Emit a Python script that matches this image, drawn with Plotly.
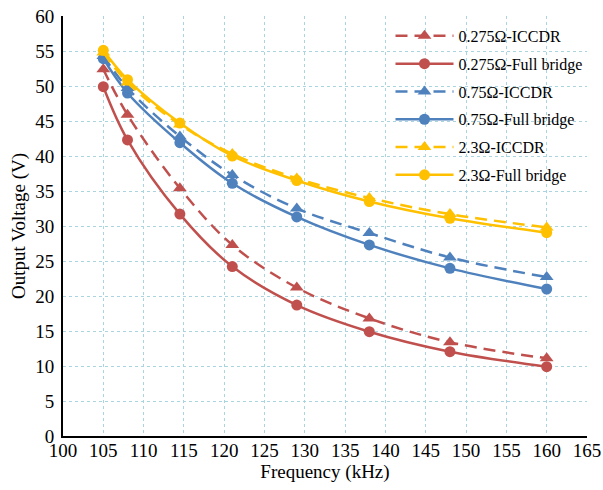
import plotly.graph_objects as go

freq = [105, 108, 114.5, 121, 129, 138, 148, 160]
r0275_iccdr = [52.4, 45.9, 35.4, 27.3, 21.2, 16.8, 13.4, 11.1]
r0275_full = [49.9, 42.3, 31.7, 24.2, 18.7, 14.9, 12.05, 9.9]
r075_iccdr = [54.3, 49.7, 42.8, 37.3, 32.5, 29.0, 25.5, 22.7]
r075_full = [53.9, 49.0, 41.9, 36.1, 31.3, 27.3, 23.95, 21.0]
r23_iccdr = [54.8, 50.5, 44.5, 40.3, 36.8, 34.0, 31.7, 29.8]
r23_full = [55.1, 50.9, 44.7, 40.0, 36.5, 33.5, 31.1, 29.05]

names = ["0.275Ω-ICCDR", "0.275Ω-Full bridge", "0.75Ω-ICCDR",
         "0.75Ω-Full bridge", "2.3Ω-ICCDR", "2.3Ω-Full bridge"]
series = [r0275_iccdr, r0275_full, r075_iccdr, r075_full, r23_iccdr, r23_full]
colors = ["#C0504D", "#C0504D", "#4F81BD", "#4F81BD", "#FFC000", "#FFC000"]

fig = go.Figure()
for i, (n, s, c) in enumerate(zip(names, series, colors)):
    iccdr = i % 2 == 0
    fig.add_trace(go.Scatter(
        x=freq, y=s, name=n, mode="lines+markers", legendgroup=f"g{i}",
        line=dict(color=c, width=2.5, shape="spline",
                  dash="12px,7px" if iccdr else "solid"),
        marker=dict(symbol="triangle-up" if iccdr else "circle",
                    size=12 if iccdr else 11, color=c),
    ))

font = "Liberation Serif"
fig.update_layout(
    width=603, height=490,
    margin=dict(l=63, r=16, t=16, b=54),
    paper_bgcolor="white", plot_bgcolor="white",
    font=dict(family=font, size=19, color="black"),
    legend=dict(x=0.625, y=0.993, xanchor="left", yanchor="top",
                bgcolor="rgba(0,0,0,0)", font=dict(size=16, family=font),
                tracegroupgap=4, itemwidth=58),
    xaxis=dict(range=[100, 165], dtick=5, tick0=100, automargin=False,
               showgrid=True, gridcolor="#A9D4E0", griddash="dot", gridwidth=1,
               showline=True, linecolor="black", linewidth=2,
               ticks="", zeroline=False, ticklabeloverflow="allow",
               ticklabelstandoff=-4,
               tickfont=dict(family=font, size=19),
               title=dict(text="Frequency (kHz)", font=dict(size=19, family=font), standoff=2)),
    yaxis=dict(range=[0, 60], dtick=5, tick0=0, automargin=False,
               showgrid=True, gridcolor="#A9D4E0", griddash="dot", gridwidth=1,
               showline=True, linecolor="black", linewidth=2,
               ticks="", zeroline=False, ticklabeloverflow="allow",
               ticklabelstandoff=3,
               tickfont=dict(family=font, size=19),
               title=dict(text="Output Voltage (V)", font=dict(size=19, family=font), standoff=5)),
)
fig.write_html("out.html", config={"displayModeBar": False},
               post_script="document.body.style.margin='0';document.body.style.overflow='hidden';")
